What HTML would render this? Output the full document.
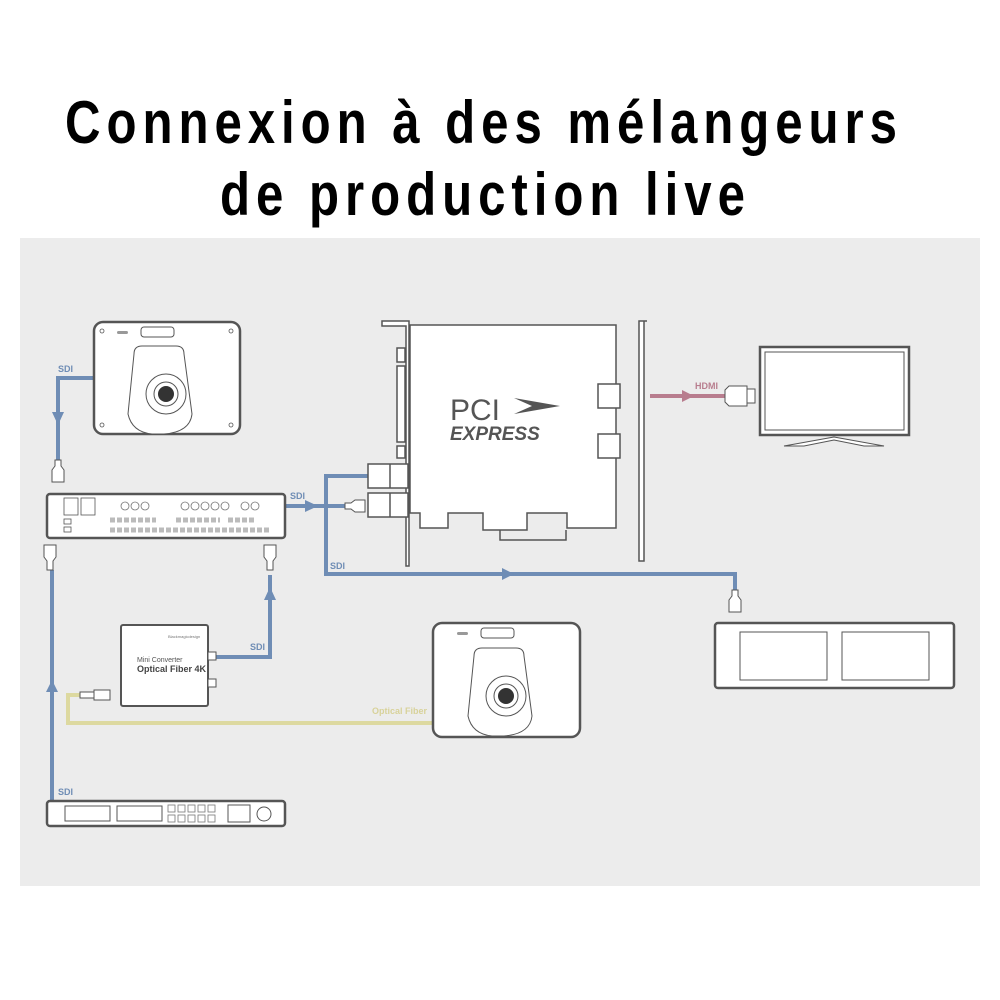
<!DOCTYPE html>
<html><head><meta charset="utf-8"><style>
html,body{margin:0;padding:0;background:#fff;}
svg{display:block;}
</style></head><body>
<svg width="1000" height="1000" viewBox="0 0 1000 1000" xmlns="http://www.w3.org/2000/svg" font-family="Liberation Sans, sans-serif">
<rect width="1000" height="1000" fill="#fff"/>
<g transform="scale(0.82,1)">
<text x="79.3" y="143" font-size="60" font-weight="bold" textLength="1014.6" lengthAdjust="spacing">Connexion à des mélangeurs</text>
<text x="268.3" y="215" font-size="60" font-weight="bold" textLength="640.2" lengthAdjust="spacing">de production live</text>
</g>
<rect x="20" y="238" width="960" height="648" fill="#ececec"/>

<!-- cables -->
<g fill="none" stroke-linejoin="miter">
<polyline points="94,378 58,378 58,460" stroke="#6f8db5" stroke-width="4"/>
<polyline points="285,506 345,506" stroke="#6f8db5" stroke-width="4"/>
<polyline points="368,476 326,476 326,574 735,574 735,592" stroke="#6f8db5" stroke-width="4"/>
<polyline points="208,657 270,657 270,575" stroke="#6f8db5" stroke-width="4"/>
<polyline points="52,800 52,570" stroke="#6f8db5" stroke-width="4"/>
<polyline points="80,695 68,695 68,723 433,723" stroke="#ddd9a0" stroke-width="4"/>
<polyline points="650,396 725,396" stroke="#b87d8e" stroke-width="4"/>
</g>
<g fill="#6f8db5">
<polygon points="52,412 64,412 58,425"/>
<polygon points="305,500 305,512 318,506"/>
<polygon points="502,568 502,580 514,574"/>
<polygon points="264,600 276,600 270,587"/>
<polygon points="46,692 58,692 52,680"/>
</g>
<polygon points="682,390 682,402 694,396" fill="#b87d8e"/>
<g font-size="9" font-weight="bold">
<text x="58" y="372" fill="#6f8db5">SDI</text>
<text x="290" y="499" fill="#6f8db5">SDI</text>
<text x="330" y="569" fill="#6f8db5">SDI</text>
<text x="250" y="650" fill="#6f8db5">SDI</text>
<text x="58" y="795" fill="#6f8db5">SDI</text>
<text x="695" y="389" fill="#b87d8e">HDMI</text>
<text x="372" y="714" fill="#d8d29a">Optical Fiber</text>
</g>

<!-- BNC connectors -->
<g fill="#fff" stroke="#555" stroke-width="1">
<path d="M55,460 h6 v6 l3,4 v12 h-12 v-12 l3,-4z"/>
<path d="M44,545 h12 v12 l-3,4 v9 h-6 v-9 l-3,-4z"/>
<path d="M264,545 h12 v12 l-3,4 v9 h-6 v-9 l-3,-4z"/>
<path d="M732,590 h6 v6 l3,4 v12 h-12 v-12 l3,-4z"/>
<path d="M345,503 h6 l4,-3 h10 v12 h-10 l-4,-3 h-6z"/>
<path d="M80,692 h14 v6 h-14z"/><path d="M94,690 h16 v10 h-16z"/>
<path d="M725,390 l4,-4 h18 v20 h-18 l-4,-4z"/><rect x="747" y="389" width="8" height="14"/>
</g>

<!-- Camera 1 -->
<g stroke="#555" fill="#fff">
<rect x="94" y="322" width="146" height="112" rx="9" stroke-width="2.5"/>
<rect x="141" y="327" width="33" height="10" rx="3" stroke-width="1"/>
<rect x="117" y="331" width="11" height="3" rx="1.5" fill="#999" stroke="none"/>
<path d="M134,354 q0,-8 8,-8 h34 q8,0 8,8 l8,60 q-2,18 -28,20 h-12 q-20,-2 -24,-20 z" stroke-width="1"/>
<circle cx="166" cy="394" r="20" stroke-width="1"/>
<circle cx="166" cy="394" r="12" stroke-width="1"/>
<circle cx="166" cy="394" r="8" fill="#333" stroke="none"/>
<circle cx="102" cy="331" r="2" stroke-width="0.8"/><circle cx="231" cy="331" r="2" stroke-width="0.8"/>
<circle cx="102" cy="425" r="2" stroke-width="0.8"/><circle cx="231" cy="425" r="2" stroke-width="0.8"/>
</g>
<!-- Camera 2 -->
<g stroke="#555" fill="#fff">
<rect x="433" y="623" width="147" height="114" rx="9" stroke-width="2.5"/>
<rect x="481" y="628" width="33" height="10" rx="3" stroke-width="1"/>
<rect x="457" y="632" width="11" height="3" rx="1.5" fill="#999" stroke="none"/>
<path d="M474,656 q0,-8 8,-8 h34 q8,0 8,8 l8,60 q-2,18 -28,20 h-12 q-20,-2 -24,-20 z" stroke-width="1"/>
<circle cx="506" cy="696" r="20" stroke-width="1"/>
<circle cx="506" cy="696" r="12" stroke-width="1"/>
<circle cx="506" cy="696" r="8" fill="#333" stroke="none"/>
</g>

<!-- Switcher -->
<g stroke="#555" fill="#fff">
<rect x="47" y="494" width="238" height="44" rx="3" stroke-width="2.5"/>
<rect x="64" y="498" width="14" height="17" stroke-width="0.8"/><rect x="81" y="498" width="14" height="17" stroke-width="0.8"/>
<rect x="64" y="519" width="7" height="5" stroke-width="0.8"/><rect x="64" y="527" width="7" height="5" stroke-width="0.8"/>
</g>
<g fill="none" stroke="#777" stroke-width="0.8">
<circle cx="125" cy="506" r="4"/><circle cx="135" cy="506" r="4"/><circle cx="145" cy="506" r="4"/>
<circle cx="185" cy="506" r="4"/><circle cx="195" cy="506" r="4"/><circle cx="205" cy="506" r="4"/><circle cx="215" cy="506" r="4"/><circle cx="225" cy="506" r="4"/><circle cx="245" cy="506" r="4"/><circle cx="255" cy="506" r="4"/>
<path d="M110,520 h46 M176,520 h44 M228,520 h26" stroke-dasharray="5,2" stroke-width="5" stroke="#bbb"/>
<path d="M110,530 h160" stroke-dasharray="5,2" stroke-width="5" stroke="#bbb"/>
</g>

<!-- PCI card -->
<g stroke="#555" fill="#fff" stroke-width="1.5">
<path d="M382,321 h27 v215 v30 h-3 v-240 h-24z"/>
<path d="M410,325 h206 v203 h-49 v-15 h-40 v17 h-44 v-17 h-35 v15 h-28 v-15 h-10 z"/>
<path d="M500,530 v10 h66 v-10" fill="none"/>
<rect x="598" y="384" width="22" height="24"/><rect x="598" y="434" width="22" height="24"/>
<rect x="397" y="348" width="8" height="14"/><rect x="397" y="366" width="8" height="76"/><rect x="397" y="446" width="8" height="12"/>
<path d="M647,321 h-8 v240 h5 v-240" />
<rect x="368" y="464" width="40" height="24"/><rect x="368" y="493" width="40" height="24"/>
<line x1="390" y1="464" x2="390" y2="488"/><line x1="390" y1="493" x2="390" y2="517"/>
</g>
<text x="450" y="420" font-size="30" fill="#555" font-family="Liberation Sans, sans-serif">PCI</text>
<path d="M514,398 l46,8 l-46,8 l18,-8z" fill="#555"/>
<text x="450" y="440" font-size="19" font-weight="bold" font-style="italic" fill="#555">EXPRESS</text>

<!-- TV -->
<g stroke="#555" fill="#fff">
<rect x="760" y="347" width="149" height="88" stroke-width="2.5"/>
<rect x="765" y="352" width="139" height="78" stroke-width="1"/>
<path d="M834,437 l-50,9 h20 l30,-6 l30,6 h20 z" stroke-width="1"/>
</g>

<!-- Monitor -->
<g stroke="#555" fill="#fff">
<rect x="715" y="623" width="239" height="65" rx="3" stroke-width="2.5"/>
<rect x="740" y="632" width="87" height="48" stroke-width="1"/>
<rect x="842" y="632" width="87" height="48" stroke-width="1"/>
</g>

<!-- Mini converter -->
<g stroke="#555" fill="#fff">
<rect x="121" y="625" width="87" height="81" rx="2" stroke-width="2"/>
<rect x="208" y="652" width="8" height="8" stroke-width="1"/>
<rect x="208" y="679" width="8" height="8" stroke-width="1"/>
</g>
<text x="137" y="662" font-size="7" fill="#555">Mini Converter</text>
<text x="137" y="672" font-size="9" font-weight="bold" fill="#444">Optical Fiber 4K</text>
<text x="168" y="638" font-size="4" fill="#777">Blackmagicdesign</text>

<!-- Recorder -->
<g stroke="#555" fill="#fff">
<rect x="47" y="801" width="238" height="25" rx="3" stroke-width="2.5"/>
<rect x="65" y="806" width="45" height="15" stroke-width="1"/>
<rect x="117" y="806" width="45" height="15" stroke-width="1"/>
<rect x="228" y="805" width="22" height="17" stroke-width="1"/>
<circle cx="264" cy="814" r="7" stroke-width="1"/>
</g>
<g fill="#fff" stroke="#777" stroke-width="0.8">
<rect x="168" y="805" width="7" height="7"/><rect x="178" y="805" width="7" height="7"/><rect x="188" y="805" width="7" height="7"/><rect x="198" y="805" width="7" height="7"/><rect x="208" y="805" width="7" height="7"/>
<rect x="168" y="815" width="7" height="7"/><rect x="178" y="815" width="7" height="7"/><rect x="188" y="815" width="7" height="7"/><rect x="198" y="815" width="7" height="7"/><rect x="208" y="815" width="7" height="7"/>
</g>
</svg>
</body></html>
